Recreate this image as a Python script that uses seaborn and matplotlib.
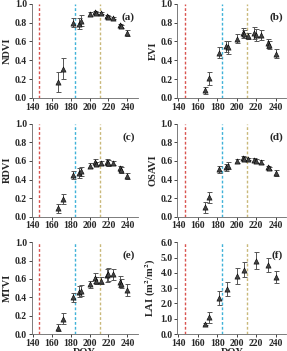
import numpy as np
import pandas as pd
import seaborn as sns
import matplotlib.pyplot as plt

# 采样日期 (DOY)
doy = [167, 172, 182, 189, 191, 200, 206, 207, 212, 218, 220, 225, 232, 233, 240]

ndvi = [0.17, 0.31, 0.80, 0.79, 0.82, 0.89, 0.91, 0.90, 0.90, 0.87, 0.86, 0.85, 0.77, 0.76, 0.69]
ndvi_sd = [0.11, 0.11, 0.05, 0.06, 0.06, 0.02, 0.01, 0.01, 0.01, 0.01, 0.01, 0.01, 0.02, 0.02, 0.03]

evi = [0.08, 0.21, 0.48, 0.55, 0.54, 0.63, 0.69, 0.68, 0.66, 0.69, 0.67, 0.67, 0.58, 0.56, 0.47]
evi_sd = [0.04, 0.07, 0.06, 0.06, 0.07, 0.05, 0.05, 0.04, 0.03, 0.06, 0.06, 0.05, 0.05, 0.04, 0.05]

rdvi = [0.09, 0.19, 0.45, 0.47, 0.49, 0.55, 0.59, 0.57, 0.58, 0.59, 0.58, 0.58, 0.52, 0.50, 0.44]
rdvi_sd = [0.05, 0.05, 0.04, 0.05, 0.05, 0.03, 0.03, 0.02, 0.02, 0.03, 0.03, 0.02, 0.03, 0.03, 0.03]

osavi = [0.10, 0.21, 0.51, 0.53, 0.55, 0.60, 0.63, 0.62, 0.62, 0.61, 0.60, 0.59, 0.53, 0.52, 0.47]
osavi_sd = [0.06, 0.06, 0.04, 0.04, 0.04, 0.02, 0.02, 0.02, 0.01, 0.02, 0.02, 0.02, 0.02, 0.02, 0.03]

mtvi = [0.07, 0.17, 0.40, 0.46, 0.47, 0.54, 0.61, 0.58, 0.58, 0.64, 0.65, 0.65, 0.57, 0.55, 0.48]
mtvi_sd = [0.04, 0.06, 0.05, 0.06, 0.06, 0.04, 0.05, 0.04, 0.04, 0.07, 0.07, 0.06, 0.06, 0.05, 0.06]

lai_doy = [167, 172, 182, 190, 200, 207, 220, 232, 240]
lai = [0.65, 1.10, 2.35, 2.95, 3.80, 4.20, 4.80, 4.50, 3.75]
lai_sd = [0.08, 0.35, 0.45, 0.45, 0.50, 0.50, 0.55, 0.45, 0.40]

# 物候期分界线
stage_doy = [147, 185, 211]
stage_colors = ['#d9534f', '#3fb2d8', '#c9b87a']

panels = [
    ('NDVI', '(a)', doy, ndvi, ndvi_sd),
    ('EVI', '(b)', doy, evi, evi_sd),
    ('RDVI', '(c)', doy, rdvi, rdvi_sd),
    ('OSAVI', '(d)', doy, osavi, osavi_sd),
    ('MTVI', '(e)', doy, mtvi, mtvi_sd),
    (r'LAI (m$^2$/m$^2$)', '(f)', lai_doy, lai, lai_sd),
]

sns.set_style('ticks')
plt.rcParams['font.family'] = ['Liberation Serif', 'DejaVu Serif']
plt.rcParams['font.weight'] = 'bold'
plt.rcParams['mathtext.fontset'] = 'stix'
plt.rcParams['font.size'] = 7

fig = plt.figure(figsize=(2.87, 3.51), dpi=100)

lefts = [0.111, 0.618]
bottoms = [0.721, 0.383, 0.048]
widths = [0.369, 0.38]
heights = [0.268, 0.264, 0.262]

for i, (name, tag, x, y, sd) in enumerate(panels):
    r, c = divmod(i, 2)
    ax = fig.add_axes([lefts[c], bottoms[r], widths[c], heights[r]])
    df = pd.DataFrame({'DOY': x, 'val': y, 'sd': sd})
    ax.errorbar(df['DOY'], df['val'], yerr=df['sd'], fmt='none',
                ecolor='#555555', elinewidth=0.7, capsize=1.8, capthick=0.7, zorder=2)
    sns.scatterplot(data=df, x='DOY', y='val', marker='^', s=14,
                    color='#444444', edgecolor='black', linewidth=0.4, ax=ax, zorder=3)
    for d, col in zip(stage_doy, stage_colors):
        ax.axvline(d, color=col, ls=(0, (2, 1.5)), lw=1.0, zorder=1)
    ax.set_xlim(139, 251)
    ax.set_xticks(range(140, 241, 20))
    if i == 5:
        ax.set_ylim(0, 6)
        ax.set_yticks(np.arange(0, 6.1, 1.0))
    else:
        ax.set_ylim(0, 1)
        ax.set_yticks(np.arange(0, 1.01, 0.2))
    ax.yaxis.set_major_formatter(plt.FormatStrFormatter('%.1f'))
    ax.tick_params(labelsize=7, length=2, width=0.6, pad=1.5)
    for lab in ax.get_xticklabels() + ax.get_yticklabels():
        lab.set_fontweight('bold')
    ax.set_ylabel(name, fontsize=7.5, fontweight='bold', labelpad=2)
    ax.set_xlabel('DOY' if r == 2 else '', fontsize=7.5, fontweight='bold', labelpad=0)
    ax.text(0.97, 0.86, tag, transform=ax.transAxes, ha='right', va='center',
            fontsize=8, fontweight='bold')
    sns.despine(ax=ax)
    for s in ['left', 'bottom']:
        ax.spines[s].set_linewidth(0.6)
        ax.spines[s].set_color('#666666')

fig.savefig('out.png', dpi=100)
